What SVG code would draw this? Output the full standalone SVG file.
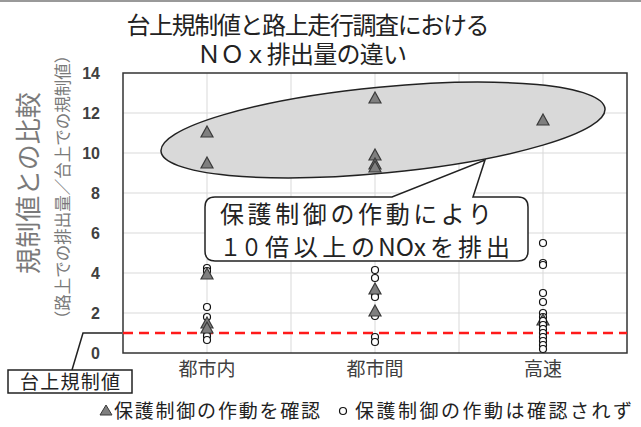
<svg xmlns="http://www.w3.org/2000/svg" width="641" height="427" viewBox="0 0 641 427">
<style>
text{font-family:"Noto Sans CJK JP","Noto Sans",sans-serif;}
.title{font-size:24px;fill:#222;text-anchor:middle;}
.ytick{font-family:"Liberation Sans",sans-serif;font-size:16px;font-weight:bold;fill:#404040;text-anchor:end;}
.cat{font-size:19px;fill:#404040;text-anchor:middle;}
.ytitle{fill:#7a7a7a;text-anchor:middle;}
.grid{stroke:#d9d9d9;stroke-width:1;fill:none;}
.call{font-size:24px;fill:#222;}
.leg{font-size:19px;fill:#222;}
.line{stroke:#222;stroke-width:1.5;fill:none;}
</style>
<defs>
<path id="tri" d="M0,-6 L6,5 L-6,5 Z" fill="#7f7f7f" stroke="#3a3a3a" stroke-width="1.2"/>
<circle id="cir" r="3.5" fill="#fff" stroke="#111" stroke-width="1.2"/>
</defs>
<rect x="0" y="0" width="641" height="427" fill="#fff"/>
<line x1="0" y1="1" x2="641" y2="1" stroke="#999" stroke-width="2"/>
<g id="title">
<text class="title" x="308" y="34" textLength="363" lengthAdjust="spacing">台上規制値と路上走行調査における</text>
<text class="title" x="302" y="63" textLength="210" lengthAdjust="spacing">ＮＯｘ排出量の違い</text>
</g>
<g id="yaxis-title">
<text class="ytitle" font-size="26" transform="translate(28,183) rotate(-90)" x="0" y="10">規制値との比較</text>
<text class="ytitle" font-size="16.5" transform="translate(63,187) rotate(-90)" x="0" y="6">（路上での排出量／台上での規制値）</text>
</g>
<g id="plot">
<g class="grid">
<line x1="123" y1="113" x2="627" y2="113"/>
<line x1="123" y1="153" x2="627" y2="153"/>
<line x1="123" y1="193" x2="627" y2="193"/>
<line x1="123" y1="233" x2="627" y2="233"/>
<line x1="123" y1="273" x2="627" y2="273"/>
<line x1="123" y1="313" x2="627" y2="313"/>
<line x1="207" y1="73" x2="207" y2="353"/>
<line x1="291" y1="73" x2="291" y2="353"/>
<line x1="375" y1="73" x2="375" y2="353"/>
<line x1="459" y1="73" x2="459" y2="353"/>
<line x1="543" y1="73" x2="543" y2="353"/>
</g>
<rect x="123" y="73" width="504" height="280" fill="none" stroke="#333" stroke-width="1.5"/>
<g id="yticks">
<text class="ytick" x="100" y="79">14</text>
<text class="ytick" x="100" y="119">12</text>
<text class="ytick" x="100" y="159">10</text>
<text class="ytick" x="100" y="199">8</text>
<text class="ytick" x="100" y="239">6</text>
<text class="ytick" x="100" y="279">4</text>
<text class="ytick" x="100" y="319">2</text>
<text class="ytick" x="100" y="359">0</text>
</g>
<g id="categories">
<text class="cat" x="207" y="376">都市内</text>
<text class="cat" x="375" y="376">都市間</text>
<text class="cat" x="543" y="376">高速</text>
</g>
</g>
<g id="ellipse-node">
<ellipse cx="383" cy="130" rx="223" ry="43" transform="rotate(-5.5 383 130)" fill="#d9d9d9" stroke="#222" stroke-width="1.5"/>
</g>
<g id="limit-line">
<line x1="123" y1="333" x2="627" y2="333" stroke="#ff1a1a" stroke-width="2.5" stroke-dasharray="10,6"/>
</g>
<g id="data">
<g id="toshinai">
<use href="#cir" x="207" y="268"/>
<use href="#cir" x="207" y="271"/>
<use href="#cir" x="207" y="307"/>
<use href="#cir" x="207" y="317"/>
<use href="#cir" x="207" y="332"/>
<use href="#cir" x="207" y="336"/>
<use href="#cir" x="207" y="340"/>
<use href="#tri" x="207" y="132"/>
<use href="#tri" x="207" y="163"/>
<use href="#tri" x="207" y="274"/>
<use href="#tri" x="207" y="323"/>
<use href="#tri" x="207" y="328"/>
</g>
<g id="toshikan">
<use href="#cir" x="375" y="270"/>
<use href="#cir" x="375" y="278"/>
<use href="#cir" x="375" y="295"/>
<use href="#cir" x="375" y="297"/>
<use href="#cir" x="375" y="316"/>
<use href="#cir" x="375" y="337"/>
<use href="#cir" x="375" y="342"/>
<use href="#tri" x="375" y="98"/>
<use href="#tri" x="375" y="155"/>
<use href="#tri" x="375" y="164"/>
<use href="#tri" x="375" y="167"/>
<use href="#tri" x="375" y="289"/>
<use href="#tri" x="375" y="311"/>
</g>
<g id="kousoku">
<use href="#cir" x="543" y="243"/>
<use href="#cir" x="543" y="263"/>
<use href="#cir" x="543" y="265"/>
<use href="#cir" x="543" y="293"/>
<use href="#cir" x="543" y="302"/>
<use href="#cir" x="543" y="313"/>
<use href="#cir" x="543" y="317"/>
<use href="#tri" x="543" y="320"/>
<use href="#cir" x="543" y="321"/>
<use href="#cir" x="543" y="325"/>
<use href="#cir" x="543" y="329"/>
<use href="#cir" x="543" y="333"/>
<use href="#cir" x="543" y="337"/>
<use href="#cir" x="543" y="341"/>
<use href="#cir" x="543" y="345"/>
<use href="#cir" x="543" y="349"/>
<use href="#tri" x="543" y="120"/>
</g>
</g>
<g id="callout-node">
<path d="M215,197 L392,197 L485,160 L473,197 L518,197 Q528,197 528,207 L528,251 Q528,261 518,261 L215,261 Q205,261 205,251 L205,207 Q205,197 215,197 Z" fill="#fff" stroke="#222" stroke-width="1.5"/>
<text class="call" x="220" y="223" textLength="272" lengthAdjust="spacing">保護制御の作動により</text>
<text class="call" y="256"><tspan x="220" textLength="42" lengthAdjust="spacingAndGlyphs">１０</tspan><tspan x="265" textLength="110" lengthAdjust="spacing">倍以上の</tspan><tspan x="378" textLength="48" lengthAdjust="spacingAndGlyphs">NOx</tspan><tspan x="430" textLength="80" lengthAdjust="spacing">を排出</tspan></text>
</g>
<g id="connectors">
<path class="line" d="M72,370 L83,333 L122,333"/>
</g>
<g id="limit-label">
<rect x="8" y="370" width="124" height="23" fill="#fff" stroke="#222" stroke-width="1.5"/>
<text x="70" y="389" font-size="19" fill="#222" text-anchor="middle" textLength="100" lengthAdjust="spacing">台上規制値</text>
</g>
<g id="legend">
<path d="M106,405 L112,415 L100,415 Z" fill="#7f7f7f" stroke="#3a3a3a" stroke-width="1"/>
<text class="leg" x="114" y="418" textLength="206" lengthAdjust="spacing">保護制御の作動を確認</text>
<circle cx="343" cy="411" r="3.5" fill="#fff" stroke="#111" stroke-width="1.2"/>
<text class="leg" x="355" y="418" textLength="277" lengthAdjust="spacing">保護制御の作動は確認されず</text>
</g>
</svg>
